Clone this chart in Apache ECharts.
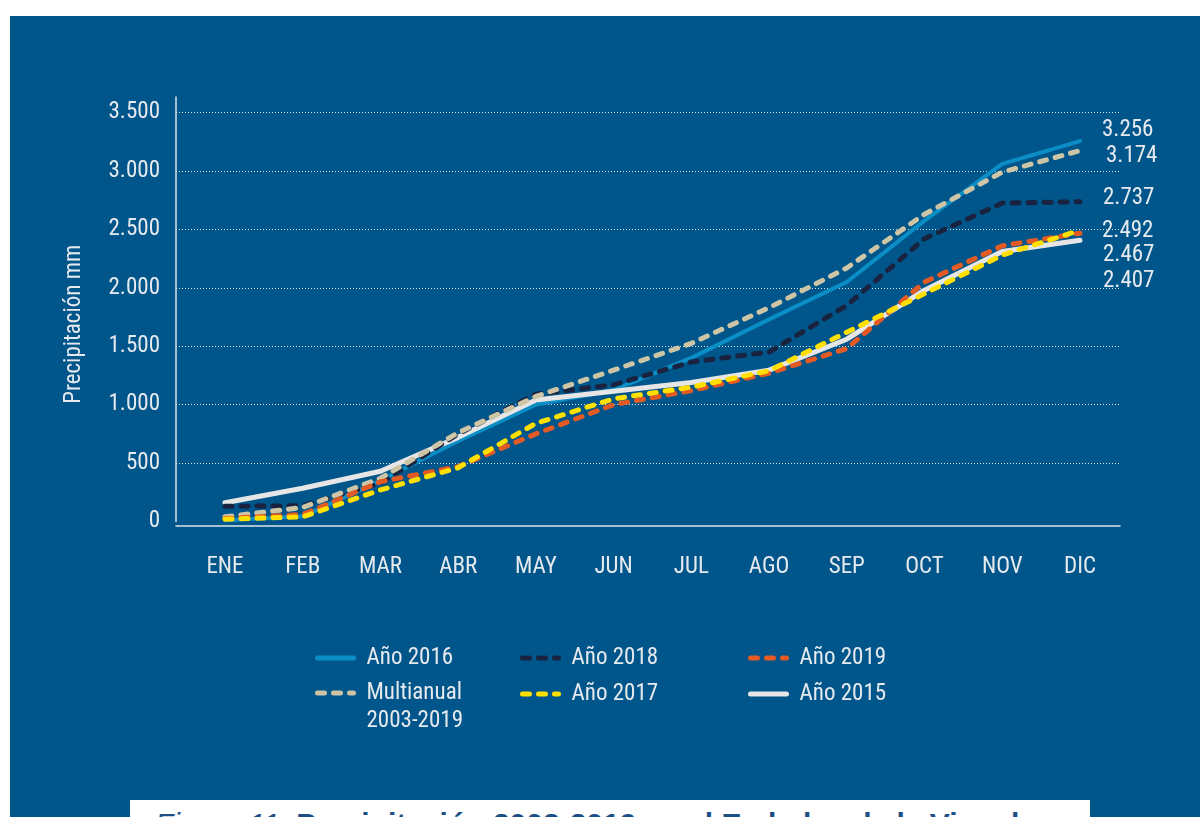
<!DOCTYPE html>
<html>
<head>
<meta charset="utf-8">
<title>Precipitación acumulada</title>
<script src="https://cdn.jsdelivr.net/npm/echarts@6/dist/echarts.min.js"></script>
<style>
    html, body { margin: 0; padding: 0; background: #fff; overflow: hidden; }
    #fondo { position: absolute; left: 10px; top: 16px; width: 1190px; height: 801px; background: #00568a; }
    #chart { position: absolute; left: 0; top: 0; width: 1200px; height: 817px; }
    #pie { position: absolute; left: 130px; top: 800px; width: 960px; height: 40px; background: #fff; overflow: hidden; }
    #pie div { position: absolute; left: 25px; top: 7px; font: bold 30px 'Liberation Sans', sans-serif; color: #1c4f86; white-space: nowrap; }
</style>
</head>
<body>
<div id="fondo"></div>
<div id="chart"></div>
<div id="pie"><div><i style="font-weight:normal">Figura 11.</i> Precipitación 2003-2019 en el Embalse de la Vinculo</div></div>
<script>
    var meses = ['ENE', 'FEB', 'MAR', 'ABR', 'MAY', 'JUN', 'JUL', 'AGO', 'SEP', 'OCT', 'NOV', 'DIC'];

    // precipitacion acumulada (mm)
    var anio2016 = [10, 45, 350, 690, 1000, 1125, 1400, 1730, 2050, 2575, 3060, 3256];
    var anio2015 = [160, 285, 430, 720, 1040, 1115, 1190, 1295, 1560, 1980, 2310, 2407];
    var anio2018 = [130, 135, 330, 750, 1090, 1170, 1365, 1450, 1850, 2420, 2725, 2737];
    var multianual = [40, 120, 370, 760, 1070, 1295, 1525, 1830, 2170, 2630, 2990, 3174];
    var anio2019 = [25, 60, 340, 470, 750, 1000, 1120, 1270, 1480, 2050, 2360, 2467];
    var anio2017 = [20, 40, 270, 460, 840, 1050, 1150, 1290, 1620, 1950, 2280, 2492];

    var yTicks = [0, 500, 1000, 1500, 2000, 2500, 3000, 3500];

    // fuente angosta: usar la primera que exista
    function existe(f) {
        var c = document.createElement('canvas').getContext('2d');
        var txt = 'Precipitación 3.500';
        c.font = '40px monospace';
        var a = c.measureText(txt).width;
        c.font = '40px "' + f + '", monospace';
        return c.measureText(txt).width !== a;
    }
    var fuente = 'DejaVu Sans Condensed', tam = 20;
    if (existe('Roboto Condensed')) { fuente = 'Roboto Condensed'; tam = 23; }
    else if (existe('Liberation Sans Narrow')) { fuente = 'Liberation Sans Narrow'; tam = 23; }
    fuente = "'" + fuente + "', sans-serif";

    var claro = '#e6eaef';

    function miles(v) {
        return String(Math.round(v)).replace(/\B(?=(\d{3})+(?!\d))/g, '.');
    }

    function puntos(arr) {
        return arr.map(function (v, i) { return [i, v]; });
    }

    function serie(nombre, datos, color, tipo, ancho, offset) {
        return {
            name: nombre,
            type: 'line',
            data: puntos(datos),
            symbol: 'none',
            lineStyle: { color: color, width: ancho, type: tipo, cap: 'round', join: 'round' },
            itemStyle: { color: color },
            endLabel: {
                show: true,
                formatter: function (p) { return miles(p.value[1]); },
                color: claro,
                fontFamily: fuente,
                fontSize: tam,
                distance: 5,
                offset: offset
            }
        };
    }

    function leyenda(nombre, left, top, formatter) {
        var l = {
            data: [nombre],
            left: left,
            top: top,
            orient: 'vertical',
            itemWidth: 36,
            itemHeight: 14,
            lineStyle: { width: 5 },
            itemStyle: { color: 'transparent', borderColor: 'transparent', borderWidth: 0 },
            textStyle: { color: claro, fontFamily: fuente, fontSize: tam, lineHeight: 28, padding: [0, 0, 0, 8] }
        };
        if (formatter) l.formatter = formatter;
        return l;
    }

    var chart = echarts.init(document.getElementById('chart'));
    var guion = [7, 9];

    var option = {
        animation: false,
        backgroundColor: 'transparent',
        textStyle: { fontFamily: fuente },
        grid: { left: 176, right: 80, top: 97, bottom: 295.5, containLabel: false, outerBoundsMode: 'none' },
        legend: [
            leyenda('Año 2016', 310, 639),
            // linea vacia arriba para que "Multianual" quede alineada con el icono
            leyenda('Multianual 2003-2019', 310, 646, function () { return ' \nMultianual\n2003-2019'; }),
            leyenda('Año 2018', 515, 639),
            leyenda('Año 2017', 515, 675),
            leyenda('Año 2019', 743, 639),
            leyenda('Año 2015', 743, 675)
        ],
        xAxis: {
            type: 'value',
            min: -0.63,
            max: 11.515,
            offset: 4,
            axisLine: { show: true, onZero: false, lineStyle: { color: '#dde3ea', width: 1.5 } },
            axisTick: { show: false },
            splitLine: { show: false },
            axisLabel: {
                customValues: meses.map(function (m, i) { return i; }),
                formatter: function (v) { return meses[v]; },
                color: claro,
                fontFamily: fuente,
                fontSize: tam,
                margin: 30
            }
        },
        yAxis: {
            type: 'value',
            min: yTicks[0],
            max: 3633,
            interval: 500,
            name: 'Precipitación mm',
            nameLocation: 'middle',
            nameGap: 90,
            nameTextStyle: { color: claro, fontFamily: fuente, fontSize: tam, padding: [0, 30, 0, 0] },
            axisLine: { show: true, onZero: false, lineStyle: { color: '#dde3ea', width: 1.5 } },
            axisTick: { show: false },
            axisLabel: {
                color: claro,
                fontFamily: fuente,
                fontSize: tam,
                margin: 16,
                showMaxLabel: false,
                formatter: miles
            },
            splitLine: {
                show: true,
                showMinLine: false,
                showMaxLine: false,
                lineStyle: { color: 'rgba(255,255,255,0.85)', width: 1, type: [1, 2] }
            }
        },
        series: [
            serie('Año 2016', anio2016, '#0a8ec5', 'solid', 4, [17, -11]),
            serie('Año 2015', anio2015, '#e6e6e6', 'solid', 5, [18, 41]),
            serie('Año 2018', anio2018, '#19233f', guion, 5, [18, -3]),
            serie('Multianual 2003-2019', multianual, '#cdc5a5', guion, 5, [21, 6]),
            serie('Año 2019', anio2019, '#e35a24', guion, 5, [18, 22]),
            serie('Año 2017', anio2017, '#ffe000', guion, 5, [17, 1])
        ]
    };

    chart.setOption(option);
    window.addEventListener('resize', function () {
        chart.resize();
    });
</script>
</body>
</html>
